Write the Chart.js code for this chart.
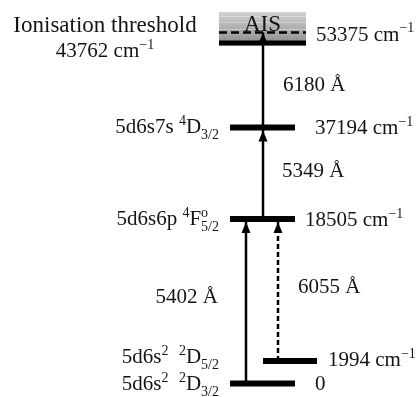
<!DOCTYPE html>
<html>
<head>
<meta charset="utf-8">
<script src="https://cdn.jsdelivr.net/npm/chart.js@4/dist/chart.umd.min.js"></script>
<style>
  html, body { margin: 0; padding: 0; background: #fff; }
  #wrap { width: 417px; height: 397px; }
</style>
</head>
<body>
<div id="wrap"><canvas id="c"></canvas></div>
<script>
// Energy levels of the atom (cm^-1) with their term symbols (^{} = superscript, _{} = subscript)
const levelEnergies = [0, 1994, 18505, 37194];
const levelTerms = ['5d6s^{2}  ^{2}D_{3/2}', '5d6s^{2}  ^{2}D_{5/2}', '5d6s6p ^{4}F^{o}_{5/2}', '5d6s7s ^{4}D_{3/2}'];

// Ionisation limit and autoionising state (cm^-1)
const ionisationThreshold = 43762;
const thresholdTitle = 'Ionisation threshold';
const aisEnergy = 53375;
const aisName = 'AIS';

// Excitation steps: lower level, upper level (cm^-1) and laser wavelength (Å)
const transitionLower = [0, 1994, 18505, 37194];
const transitionUpper = [18505, 18505, 37194, 53375];
const transitionWavelengths = [5402, 6055, 5349, 6180];

// ---- drawing layout -------------------------------------------------------
const FONT = '"Liberation Serif", "Times New Roman", serif';
const INK = '#141414';
const layout = {
  levelSpan: [[230, 295], [263, 317], [230, 295], [230, 295]],
  levelThickness: 6,
  bandSpan: [219, 306],
  bandTopEnergy: 56300,
  thresholdThickness: 5,
  termRight: 219,
  termDy: [6.5, 2, 6, 6],
  energyLabelX: [315, 328, 305, 315],
  energyDy: [6.5, 5, 7, 7],
  aisLabelX: 316,
  aisDy: 8,
  arrowX: [246, 278, 263, 263],
  arrowDash: [[], [5, 3], [], []],
  arrowTipGap: [3, 3, 3, 0],
  wlLabel: [
    { x: 218, align: 'right', dy: -5 },
    { x: 298, align: 'left', dy: -4 },
    { x: 282, align: 'left', dy: -3 },
    { x: 283, align: 'left', dy: 4 }
  ],
  thresholdTextX: 105
};

// Schematic energy axis: piecewise-linear so that widely spaced levels fit the page
const energyBreaks = [
  [-1300, 0], [0, 0.034], [1994, 0.0907], [18505, 0.4484],
  [37194, 0.679], [43762, 0.8917], [53375, 0.9181], [58000, 1]
];

class SchematicScale extends Chart.LinearScale {
  static id = 'schematic';
  static defaults = Chart.LinearScale.defaults;
  _toDecimal(v) {
    const b = this.options.breaks;
    if (v <= b[0][0]) return b[0][1];
    for (let i = 1; i < b.length; i++) {
      if (v <= b[i][0]) {
        const t = (v - b[i - 1][0]) / (b[i][0] - b[i - 1][0]);
        return b[i - 1][1] + t * (b[i][1] - b[i - 1][1]);
      }
    }
    return b[b.length - 1][1];
  }
  getPixelForValue(v) {
    return this.getPixelForDecimal(this._toDecimal(v));
  }
  getValueForPixel(p) {
    const d = this.getDecimalForPixel(p);
    const b = this.options.breaks;
    for (let i = 1; i < b.length; i++) {
      if (d <= b[i][1]) {
        const t = (d - b[i - 1][1]) / (b[i][1] - b[i - 1][1]);
        return b[i - 1][0] + t * (b[i][0] - b[i - 1][0]);
      }
    }
    return b[b.length - 1][0];
  }
}
Chart.register(SchematicScale);

// ---- rich text (superscripts / subscripts) -------------------------------
function parseRich(s) {
  const segs = [];
  let buf = '';
  const flush = () => { if (buf) { segs.push({ t: buf }); buf = ''; } };
  let i = 0;
  while (i < s.length) {
    if ((s[i] === '^' || s[i] === '_') && s[i + 1] === '{') {
      flush();
      const end = s.indexOf('}', i);
      const txt = s.slice(i + 2, end);
      const prev = segs[segs.length - 1];
      if (s[i] === '_' && prev && prev.sup !== undefined && prev.sub === undefined) prev.sub = txt;
      else segs.push(s[i] === '^' ? { sup: txt } : { sub: txt });
      i = end + 1;
    } else {
      buf += s[i];
      i++;
    }
  }
  flush();
  return segs;
}

function drawRich(ctx, str, x, y, align, size) {
  const segs = parseRich(str);
  const small = Math.round(size * 0.66);
  const mainFont = size + 'px ' + FONT;
  const smallFont = small + 'px ' + FONT;
  const rise = size * 0.4, drop = size * 0.27;
  let w = 0;
  segs.forEach(s => {
    if (s.t !== undefined) { ctx.font = mainFont; s.w = ctx.measureText(s.t).width; }
    else {
      ctx.font = smallFont;
      s.w = Math.max(s.sup ? ctx.measureText(s.sup).width : 0, s.sub ? ctx.measureText(s.sub).width : 0);
    }
    w += s.w;
  });
  let cx = align === 'right' ? x - w : align === 'center' ? x - w / 2 : x;
  ctx.textAlign = 'left';
  ctx.textBaseline = 'alphabetic';
  segs.forEach(s => {
    if (s.t !== undefined) { ctx.font = mainFont; ctx.fillText(s.t, cx, y); }
    else {
      ctx.font = smallFont;
      if (s.sup) ctx.fillText(s.sup, cx, y - rise);
      if (s.sub) ctx.fillText(s.sub, cx, y + drop);
    }
    cx += s.w;
  });
}

const energyText = e => (e === 0 ? '0' : e + ' cm^{\u22121}');

// ---- datasets ---------------------------------------------------------------
const datasets = [];
levelEnergies.forEach((e, i) => {
  datasets.push({
    data: [{ x: layout.levelSpan[i][0], y: e }, { x: layout.levelSpan[i][1], y: e }],
    borderColor: '#000', borderWidth: layout.levelThickness, order: 0
  });
});
datasets.push({
  data: [{ x: layout.bandSpan[0], y: ionisationThreshold }, { x: layout.bandSpan[1], y: ionisationThreshold }],
  borderColor: '#000', borderWidth: layout.thresholdThickness, order: 0
});
datasets.push({
  data: [{ x: layout.bandSpan[0], y: aisEnergy }, { x: layout.bandSpan[1], y: aisEnergy }],
  borderColor: '#000', borderWidth: 2.5, borderDash: [8, 4], order: 0
});
transitionLower.forEach((lo, i) => {
  datasets.push({
    data: [{ x: layout.arrowX[i], y: lo }, { x: layout.arrowX[i], y: transitionUpper[i] }],
    borderColor: '#000', borderWidth: 2.5, borderDash: layout.arrowDash[i], order: 1
  });
});

// ---- band, arrowheads and labels -------------------------------------------
const diagramPlugin = {
  id: 'diagram',
  beforeDatasetsDraw(chart) {
    const { ctx, scales: { x, y } } = chart;
    const x0 = x.getPixelForValue(layout.bandSpan[0]);
    const x1 = x.getPixelForValue(layout.bandSpan[1]);
    const top = y.getPixelForValue(layout.bandTopEnergy);
    const bottom = y.getPixelForValue(ionisationThreshold) + layout.thresholdThickness / 2;
    const g = ctx.createLinearGradient(0, top, 0, bottom);
    g.addColorStop(0, '#d2d2d2');
    g.addColorStop(0.35, '#b8b8b8');
    g.addColorStop(0.75, '#9c9c9c');
    g.addColorStop(1, '#888888');
    ctx.save();
    ctx.fillStyle = g;
    ctx.fillRect(x0, top, x1 - x0, bottom - top);
    // faint horizontal streaks of the continuum
    ctx.strokeStyle = 'rgba(255,255,255,0.35)';
    ctx.lineWidth = 1;
    [0.12, 0.3, 0.5].forEach(f => {
      const yy = Math.round(top + f * (bottom - top)) + 0.5;
      ctx.beginPath(); ctx.moveTo(x0, yy); ctx.lineTo(x1, yy); ctx.stroke();
    });
    ctx.restore();
  },
  afterDatasetsDraw(chart) {
    const { ctx, scales: { x, y } } = chart;
    ctx.save();
    ctx.fillStyle = '#000';
    // arrowheads at the upper end of each step
    transitionUpper.forEach((up, i) => {
      const px = x.getPixelForValue(layout.arrowX[i]);
      const tip = y.getPixelForValue(up) + layout.arrowTipGap[i];
      ctx.beginPath();
      ctx.moveTo(px, tip);
      ctx.lineTo(px - 4.5, tip + 11);
      ctx.lineTo(px + 4.5, tip + 11);
      ctx.closePath();
      ctx.fill();
    });
    ctx.fillStyle = INK;
    // term symbols and energies of the levels
    levelEnergies.forEach((e, i) => {
      const py = y.getPixelForValue(e);
      drawRich(ctx, levelTerms[i], x.getPixelForValue(layout.termRight), py + layout.termDy[i], 'right', 21);
      drawRich(ctx, energyText(e), x.getPixelForValue(layout.energyLabelX[i]), py + layout.energyDy[i], 'left', 21);
    });
    // autoionising state
    const pa = y.getPixelForValue(aisEnergy);
    drawRich(ctx, energyText(aisEnergy), x.getPixelForValue(layout.aisLabelX), pa + layout.aisDy, 'left', 21);
    const bandMid = x.getPixelForValue((layout.bandSpan[0] + layout.bandSpan[1]) / 2);
    drawRich(ctx, aisName, bandMid, pa - 2, 'center', 23);
    // ionisation threshold caption
    const pt = y.getPixelForValue(ionisationThreshold);
    const tx = x.getPixelForValue(layout.thresholdTextX);
    drawRich(ctx, thresholdTitle, tx, pt - 11, 'center', 23);
    drawRich(ctx, energyText(ionisationThreshold), tx, pt + 14, 'center', 21);
    // laser wavelengths
    transitionWavelengths.forEach((wl, i) => {
      const mid = (y.getPixelForValue(transitionLower[i]) + y.getPixelForValue(transitionUpper[i])) / 2;
      const L = layout.wlLabel[i];
      drawRich(ctx, wl + ' \u00C5', x.getPixelForValue(L.x), mid + L.dy + 7, L.align, 21);
    });
    ctx.restore();
  }
};

new Chart(document.getElementById('c'), {
  type: 'scatter',
  data: { datasets },
  options: {
    responsive: true,
    maintainAspectRatio: false,
    animation: false,
    events: [],
    showLine: true,
    layout: { padding: 0 },
    elements: { point: { radius: 0 }, line: { tension: 0, borderCapStyle: 'butt' } },
    plugins: { legend: { display: false }, tooltip: { enabled: false } },
    scales: {
      x: { type: 'linear', min: 0, max: 417, display: false },
      y: { type: 'schematic', min: -1300, max: 58000, display: false, breaks: energyBreaks }
    }
  },
  plugins: [diagramPlugin]
});
</script>
</body>
</html>
